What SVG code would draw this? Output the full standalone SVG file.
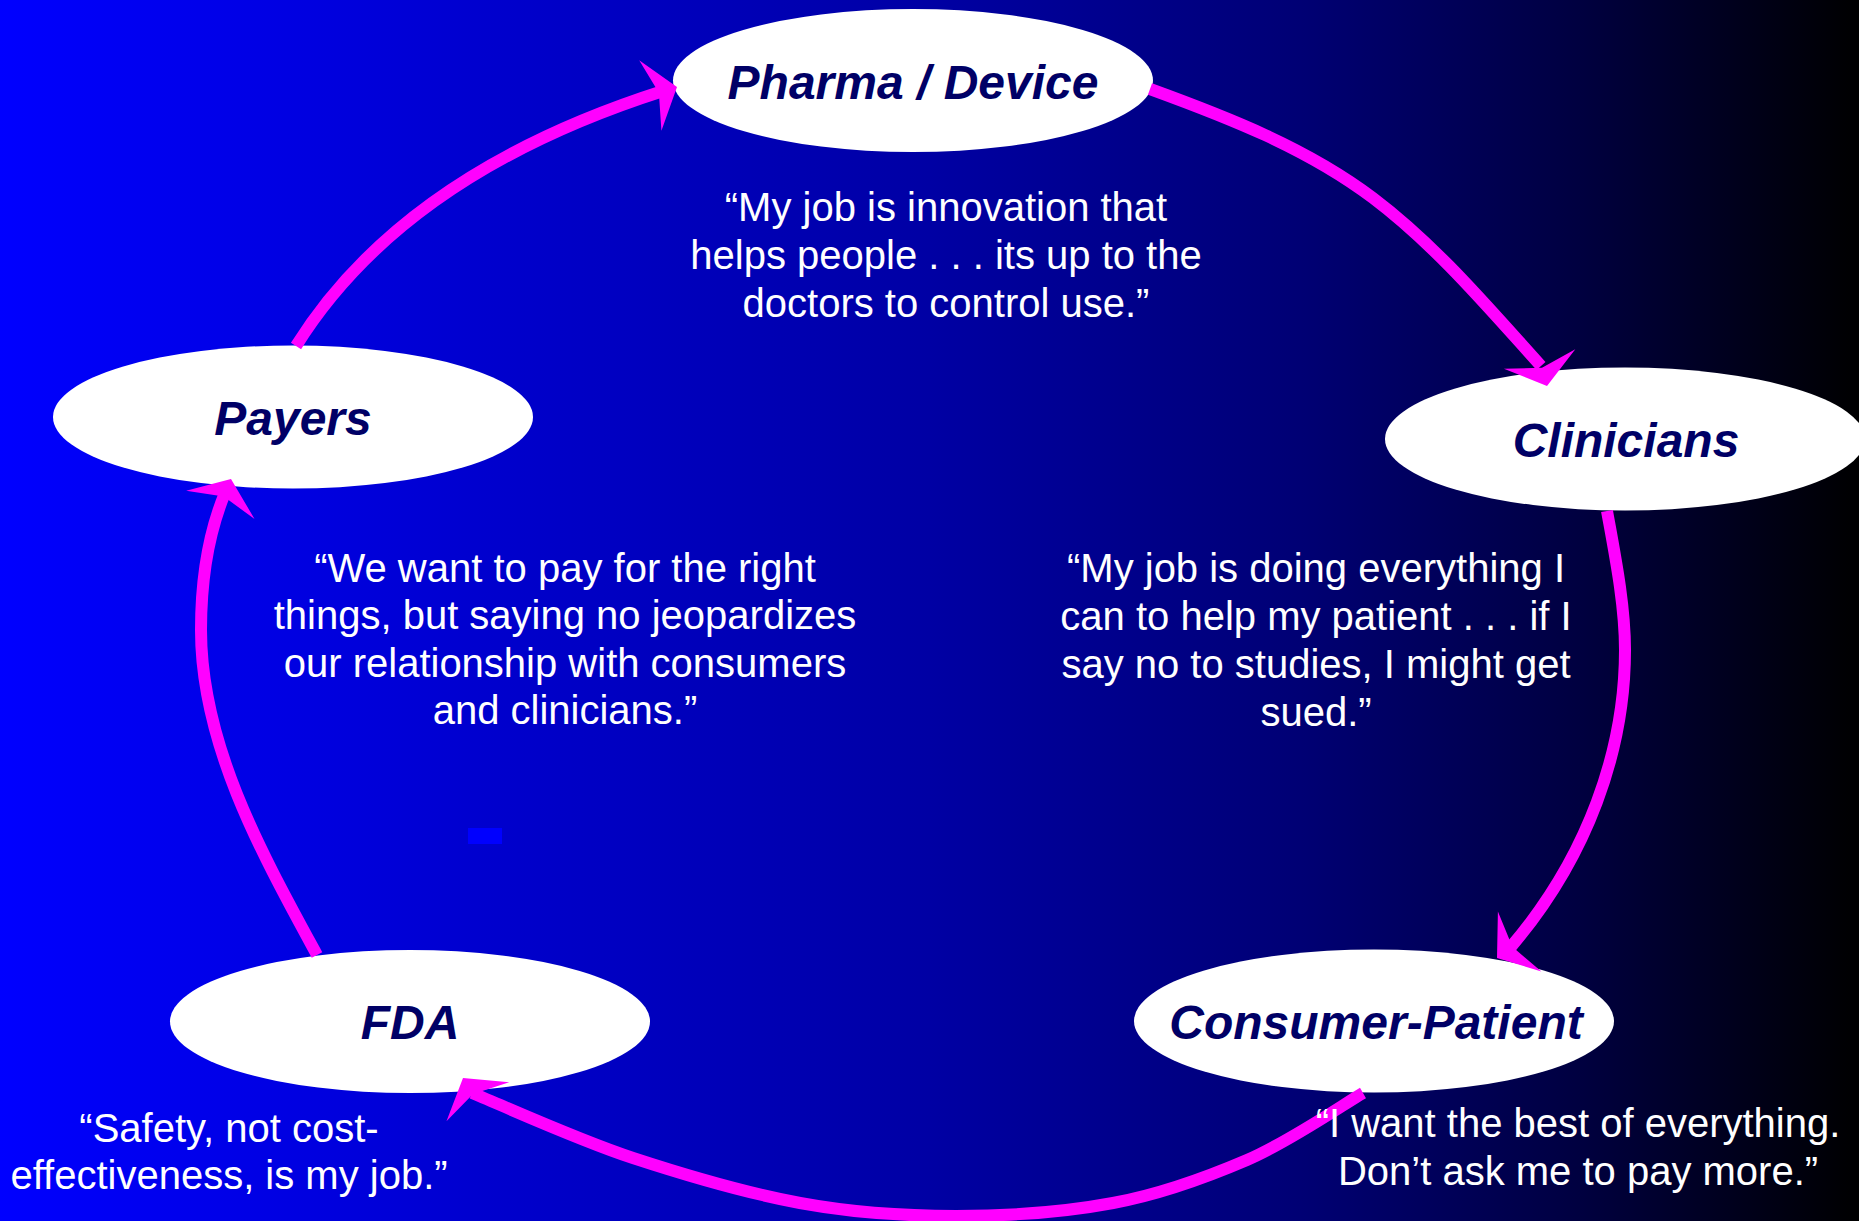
<svg xmlns="http://www.w3.org/2000/svg" width="1859" height="1221" viewBox="0 0 1859 1221">
<defs>
<linearGradient id="bg" x1="0" y1="0" x2="1" y2="0">
<stop offset="0" stop-color="#0000FF"/>
<stop offset="0.25" stop-color="#0000D0"/>
<stop offset="0.5" stop-color="#0000A4"/>
<stop offset="0.7" stop-color="#000074"/>
<stop offset="0.85" stop-color="#000040"/>
<stop offset="1" stop-color="#000000"/>
</linearGradient>
<path id="ah" d="M0,0 L-28,-37 L-19,0 L-28,37 Z"/>
</defs>
<style>
.node ellipse{fill:#FFFFFF}
.label{font-family:"Liberation Sans",Arial,sans-serif;font-weight:bold;font-style:italic;font-size:48px;fill:#000066;text-anchor:middle}
.quote{font-family:"Liberation Sans",Arial,sans-serif;font-size:40px;fill:#FFFFFF;text-anchor:middle}
.arc{fill:none;stroke:#FF00FF;stroke-width:12}
.head{fill:#FF00FF}
</style>
<rect x="0" y="0" width="1859" height="1221" fill="url(#bg)"/>
<rect x="468" y="828" width="34" height="16" fill="#0000FF"/>

<g id="node-pharma" class="node">
<ellipse cx="913" cy="80.5" rx="240" ry="71.5"/>
<text class="label" x="913" y="99">Pharma / Device</text>
</g>
<g id="node-clinicians" class="node">
<ellipse cx="1625" cy="439" rx="240" ry="71.5"/>
<text class="label" x="1626" y="457">Clinicians</text>
</g>
<g id="node-consumer" class="node">
<ellipse cx="1374" cy="1021" rx="240" ry="71.5"/>
<text class="label" x="1376" y="1039">Consumer-Patient</text>
</g>
<g id="node-fda" class="node">
<ellipse cx="410" cy="1021.5" rx="240" ry="71.5"/>
<text class="label" x="410" y="1039">FDA</text>
</g>
<g id="node-payers" class="node">
<ellipse cx="293" cy="417" rx="240" ry="71.5"/>
<text class="label" x="293" y="435">Payers</text>
</g>

<g id="connectors">
<path class="arc" d="M296,346 C375.5,218.8 510.5,139.7 663,91"/>
<use href="#ah" class="head" transform="translate(677,87) rotate(-17.5)"/>
<path class="arc" d="M1150,89 C1228,117.4 1306.7,148 1373,198 C1436,245.6 1488,307.3 1541,366"/>
<use href="#ah" class="head" transform="translate(1547,386) rotate(74.7)"/>
<path class="arc" d="M1607,511 C1615,555 1625,605 1625,650 C1625,750 1588,857 1510,948"/>
<use href="#ah" class="head" transform="translate(1497,958) rotate(144)"/>
<path class="arc" d="M1363,1093 C1344,1104 1289,1142 1247,1160 C1205,1178 1162,1194 1113,1203 C1065,1212 1008,1216 956,1216 C904,1216 854,1213 800,1203 C746,1193 688,1176 633,1158 C578,1140 499,1104 472,1093"/>
<use href="#ah" class="head" transform="translate(463,1078) rotate(-122)"/>
<path class="arc" d="M317,955 C262,854 201,745 201,630 C201,580 208,534 225,493"/>
<use href="#ah" class="head" transform="translate(231,479) rotate(-67.6)"/>
</g>

<g id="quote-pharma">
<text class="quote" x="946" y="221">“My job is innovation that</text>
<text class="quote" x="946" y="269">helps people . . . its up to the</text>
<text class="quote" x="946" y="317">doctors to control use.”</text>
</g>
<g id="quote-payers">
<text class="quote" x="565" y="582">“We want to pay for the right</text>
<text class="quote" x="565" y="629">things, but saying no jeopardizes</text>
<text class="quote" x="565" y="677">our relationship with consumers</text>
<text class="quote" x="565" y="724">and clinicians.”</text>
</g>
<g id="quote-clinicians">
<text class="quote" x="1316" y="582">“My job is doing everything I</text>
<text class="quote" x="1316" y="630">can to help my patient . . . if I</text>
<text class="quote" x="1316" y="678">say no to studies, I might get</text>
<text class="quote" x="1316" y="726">sued.”</text>
</g>
<g id="quote-consumer">
<text class="quote" x="1578" y="1137">“I want the best of everything.</text>
<text class="quote" x="1578" y="1185">Don’t ask me to pay more.”</text>
</g>
<g id="quote-fda">
<text class="quote" x="229" y="1142">“Safety, not cost-</text>
<text class="quote" x="229" y="1189">effectiveness, is my job.”</text>
</g>
</svg>
